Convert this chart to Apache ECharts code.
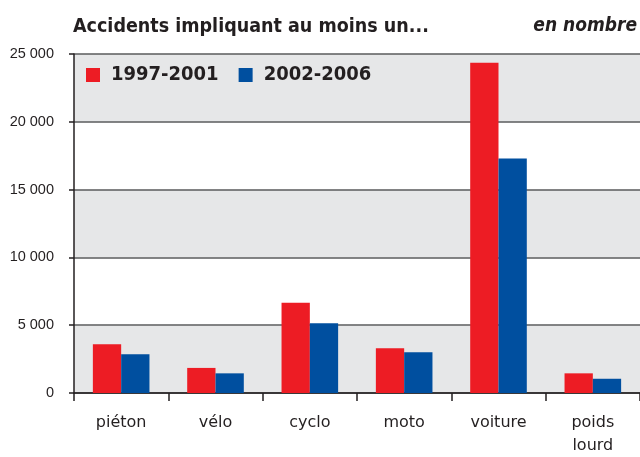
<!DOCTYPE html>
<html><head><meta charset="utf-8">
<script src="https://cdn.jsdelivr.net/npm/echarts@6/dist/echarts.min.js"></script>
<style>html,body{margin:0;padding:0;background:#fff;overflow:hidden}#c{width:640px;height:457px}</style>
</head><body><div id="c"></div>
<script>
const categories = ['piéton', 'vélo', 'cyclo', 'moto', 'voiture', 'poids\nlourd'];
const seriesNames = ['1997-2001', '2002-2006'];
const values1997 = [3600, 1850, 6650, 3300, 24350, 1450];
const values2002 = [2850, 1450, 5150, 3000, 17300, 1050];
const yTicks = [0, 5000, 10000, 15000, 20000, 25000];
const titleText = 'Accidents impliquant au moins un...';
const unitText = 'en nombre';

const FONT = '"DejaVu Sans Condensed", "DejaVu Sans", sans-serif';
const FONT2 = '"DejaVu Sans", sans-serif';
const chart = echarts.init(document.getElementById('c'), null, {renderer: 'canvas'});
chart.setOption({
  animation: false,
  backgroundColor: '#fff',
  title: [
    {text: titleText, left: 68, top: 12, textStyle: {fontFamily: FONT, fontSize: 19.5, fontWeight: 'bold', color: '#231f20'}},
    {text: unitText, right: -2, top: 12, textStyle: {fontFamily: FONT, fontSize: 19, fontWeight: 'bold', fontStyle: 'italic', color: '#231f20'}}
  ],
  legend: {
    left: 81, top: 60, itemWidth: 14, itemHeight: 14, itemGap: 20,
    icon: 'rect',
    textStyle: {fontFamily: FONT, fontSize: 20, fontWeight: 'bold', color: '#231f20', padding: [0, 0, 0, 6]},
    data: seriesNames
  },
  grid: {left: 74, right: 0, top: 54, bottom: 58, containLabel: false},
  xAxis: {
    type: 'category', data: categories,
    axisLine: {lineStyle: {color: '#231f20', width: 1.5}},
    axisTick: {show: true, length: 8, lineStyle: {color: '#231f20', width: 1.5}},
    axisLabel: {fontFamily: FONT2, fontSize: 16, color: '#231f20', margin: 18, lineHeight: 23}
  },
  yAxis: {
    type: 'value', min: 0, max: 25000, interval: 5000,
    axisLine: {show: true, lineStyle: {color: '#231f20', width: 1.5}},
    axisTick: {show: true, length: 5, lineStyle: {color: '#231f20', width: 1.5}},
    axisLabel: {fontFamily: '"Liberation Sans", Arial, sans-serif', fontSize: 14.5, color: '#231f20', margin: 20,
      formatter: v => yTicks.includes(v) ? String(v).replace(/\B(?=(\d{3})+(?!\d))/g, ' ') : ''},
    splitLine: {show: true, lineStyle: {color: '#5a5b5d', width: 1.5}},
    splitArea: {show: true, areaStyle: {color: ['#e6e7e8', '#ffffff']}}
  },
  series: [
    {name: seriesNames[0], type: 'bar', data: values1997, barGap: '0%', barCategoryGap: '40%', itemStyle: {color: '#ed1c24'}},
    {name: seriesNames[1], type: 'bar', data: values2002, barGap: '0%', barCategoryGap: '40%', itemStyle: {color: '#004f9f'}}
  ]
});
</script></body></html>
